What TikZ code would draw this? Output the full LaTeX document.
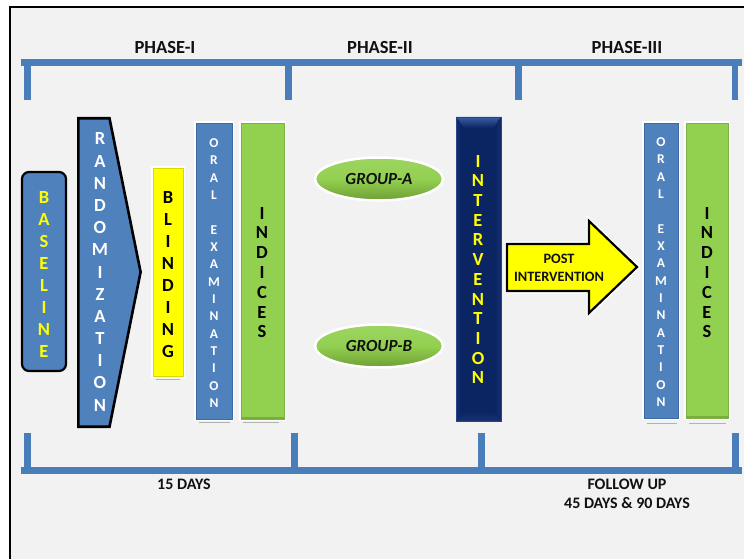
\documentclass[tikz,border=0pt]{standalone}
\usepackage{fontspec}
\setmainfont{Carlito}
\usetikzlibrary{shapes.geometric}
\definecolor{pagebg}{HTML}{F2F2F2}
\definecolor{officeblue}{HTML}{4F81BD}
\definecolor{edgeblue}{HTML}{3A6BA8}
\definecolor{barblue}{HTML}{4A7EBB}
\definecolor{leaf}{HTML}{92D050}
\definecolor{leafdark}{HTML}{6E9E35}
\definecolor{navy}{HTML}{0B2462}
\definecolor{navylight}{HTML}{3A5CA3}
\definecolor{lemon}{HTML}{FFFF00}
\definecolor{ink}{HTML}{111111}

\begin{document}
\begin{tikzpicture}[x=1pt,y=-1pt,
  bar/.style={fill=barblue},
  heading/.style={font=\bfseries\fontsize{18.5}{22}\selectfont, text=ink, inner sep=0pt},
  daylabel/.style={font=\bfseries\fontsize{16}{19}\selectfont, text=ink, inner sep=0pt, align=center},
  bigletters/.style={align=center, inner sep=0pt, font=\bfseries\fontsize{18.5}{#1}\selectfont},
  smallletters/.style={align=center, inner sep=0pt, text=white, font=\bfseries\fontsize{13.5}{17.33}\selectfont},
  glow/.style={fill=white},
  reflection/.style={draw=black!30, line width=1pt},
  bluebar/.style={fill=officeblue, draw=edgeblue, line width=0.8pt},
  greenbar/.style={fill=leaf, draw=leaf!85!black, line width=0.8pt},
  grouppill/.style={ellipse, draw=white, line width=2.5pt, minimum width=128pt, minimum height=43pt,
     inner sep=0pt, top color=leaf!90!white, bottom color=leafdark, middle color=leaf,
     font=\bfseries\itshape\fontsize{17}{20}\selectfont, text=ink}
]
\useasboundingbox (0,0) rectangle (744,559);

% page and frame
\fill[white] (0,0) rectangle (744,559);
\fill[pagebg] (10,7) rectangle (744,559);
\draw[line width=2.2pt] (10,559) -- (10,7) -- (744,7);

% top timeline bracket
\fill[bar] (21,59) rectangle (742,66);
\fill[bar] (24,66) rectangle (31,100);
\fill[bar] (285,66) rectangle (292,100);
\fill[bar] (515,66) rectangle (522,100);
\fill[bar] (732,66) rectangle (738,100);

% bottom timeline bracket
\fill[bar] (21,467) rectangle (742,474);
\fill[bar] (24,433) rectangle (31,467);
\fill[bar] (291,433) rectangle (298,467);
\fill[bar] (478,433) rectangle (485,467);
\fill[bar] (732,433) rectangle (739,467);

% phase headings
\node[heading] (phase1) at (165,47) {PHASE-I};
\node[heading] (phase2) at (380,47) {PHASE-II};
\node[heading] (phase3) at (627,47) {PHASE-III};

% duration labels
\node[daylabel] (days15) at (184,484) {15 DAYS};
\node[daylabel] (followup) at (627,484) {FOLLOW UP};
\node[daylabel] (days4590) at (627,503) {45 DAYS \& 90 DAYS};

% baseline
\node[draw=black, line width=2.2pt, fill=officeblue, rounded corners=7pt,
      minimum width=44pt, minimum height=199pt, inner sep=0pt] (baseline) at (44,271.5) {};
\node[bigletters=21.9, text=lemon] (baselinetxt) at (44,274.5)
  {B\\A\\S\\E\\L\\I\\N\\E};

% randomization pentagon
\draw[line width=2.6pt, line join=miter, fill=officeblue]
  (78.3,118.3) -- (109.5,118.3) -- (140.6,272) -- (109.5,426.7) -- (78.3,426.7) -- cycle;
\node[bigletters=22.17, text=white] (randomtxt) at (100,272)
  {R\\A\\N\\D\\O\\M\\I\\Z\\A\\T\\I\\O\\N};

% blinding
\fill[glow] (151,166) rectangle (185,378);
\filldraw[fill=lemon, draw=lemon!85!black, line width=0.8pt] (153,168) rectangle (183,376);
\draw[reflection] (156,379.5) -- (180,379.5);
\node[bigletters=22.1, text=black] (blindtxt) at (168,274.5)
  {B\\L\\I\\N\\D\\I\\N\\G};

% oral examination, phase I
\fill[glow] (194,121) rectangle (234,421);
\filldraw[bluebar] (196,123) rectangle (232,419);
\draw[reflection] (199,422.5) -- (230,422.5);
\node[smallletters] (oral1txt) at (214,273)
  {O\\R\\A\\L\\~\\E\\X\\A\\M\\I\\N\\A\\T\\I\\O\\N};

% indices, phase I
\fill[glow] (239,121) rectangle (286,421);
\filldraw[greenbar] (241,123) rectangle (284,419);
\fill[leafdark!70!leaf] (241.4,416.5) rectangle (283.6,418.6);
\draw[reflection] (243,422.5) -- (279,422.5);
\node[bigletters=19.8, text=black] (indices1txt) at (262,272.5)
  {I\\N\\D\\I\\C\\E\\S};

% study groups
\node[grouppill] (groupA) at (379,179) {GROUP-A};
\node[grouppill] (groupB) at (379,346) {GROUP-B};

% intervention column with bevelled edges
\fill[navy] (456,117) rectangle (501,421);
\shade[top color=navylight, bottom color=navy] (456,117) -- (501,117) -- (493,128) -- (464,128) -- cycle;
\shade[top color=navy, bottom color=navy!75!navylight] (456,421) -- (501,421) -- (493,411) -- (464,411) -- cycle;
\fill[navy!88!navylight] (456,117) -- (460,122) -- (460,416) -- (456,421) -- cycle;
\fill[navy!88!navylight] (501,117) -- (497,122) -- (497,416) -- (501,421) -- cycle;
\draw[navylight!60!navy, line width=0.8pt] (456,117) rectangle (501,421);
\node[bigletters=19.7, text=lemon] (intervtxt) at (478,269.5)
  {I\\N\\T\\E\\R\\V\\E\\N\\T\\I\\O\\N};

% post intervention arrow
\draw[white, line width=5pt, line join=miter]
  (507,244) -- (589,244) -- (589,221) -- (637,267) -- (589,313) -- (589,291) -- (507,291) -- cycle;
\draw[black, line width=2.2pt, line join=miter, fill=lemon]
  (507,244) -- (589,244) -- (589,221) -- (637,267) -- (589,313) -- (589,291) -- (507,291) -- cycle;
\node[align=center, inner sep=0pt, text=ink, font=\bfseries\fontsize{14.3}{18}\selectfont]
  (posttxt) at (559,268) {POST\\INTERVENTION};

% oral examination, phase III
\fill[glow] (642,121) rectangle (680,420);
\filldraw[bluebar] (644,123) rectangle (678,418);
\draw[reflection] (647,423) -- (677,423);
\node[smallletters] (oral3txt) at (661,272)
  {O\\R\\A\\L\\~\\E\\X\\A\\M\\I\\N\\A\\T\\I\\O\\N};

% indices, phase III
\fill[glow] (684,121) rectangle (730,420);
\filldraw[greenbar] (686,123) rectangle (728,418);
\fill[leafdark!70!leaf] (686.4,415.5) rectangle (727.6,417.6);
\draw[reflection] (689,423) -- (726,423);
\node[bigletters=19.8, text=black] (indices3txt) at (707,272.5)
  {I\\N\\D\\I\\C\\E\\S};
\end{tikzpicture}
\end{document}
